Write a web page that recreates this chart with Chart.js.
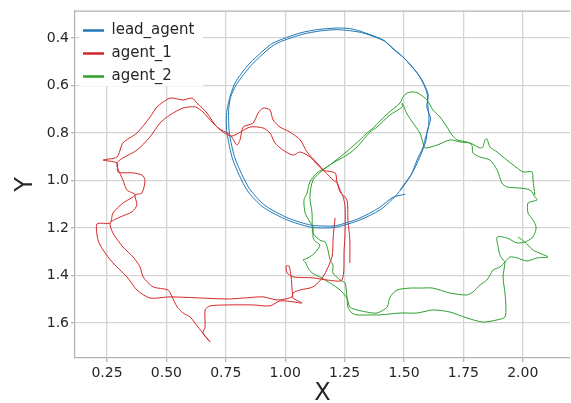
<!DOCTYPE html>
<html>
<head>
<meta charset="utf-8">
<script src="https://cdn.jsdelivr.net/npm/chart.js@4.4.1/dist/chart.umd.min.js"></script>
<style>
	html, body { margin: 0; padding: 0; background: #fff; }
	#wrap { width: 571px; height: 403px; }
</style>
</head>
<body>
<div id="wrap"><canvas id="traj" width="571" height="403"></canvas></div>
<script>
/* global Chart */
var seriesNames = [ 'lead_agent', 'agent_1', 'agent_2' ];
var seriesColors = [ '#1f77b4', '#d62728', '#2ca02c' ];
var xTicks = [ 0.25, 0.5, 0.75, 1.0, 1.25, 1.5, 1.75, 2.0 ];
var yTicks = [ 0.4, 0.6, 0.8, 1.0, 1.2, 1.4, 1.6 ];

// [x, y] samples
var leadAgent = [
	[1.483,1.040],[1.530,0.975],[1.555,0.914],[1.580,0.860],[1.588,0.829],[1.603,0.775],[1.605,0.733],
	[1.600,0.680],[1.597,0.632],[1.578,0.585],[1.555,0.547],[1.496,0.480],[1.450,0.440],[1.412,0.408],
	[1.315,0.371],[1.270,0.360],[1.218,0.358],[1.140,0.364],[1.062,0.379],[0.949,0.421],[0.900,0.460],
	[0.852,0.505],[0.815,0.550],[0.789,0.589],[0.770,0.640],[0.755,0.703],[0.752,0.750],[0.755,0.800],
	[0.780,0.914],[0.839,1.040],[0.907,1.112],[1.008,1.166],[1.104,1.196],[1.160,1.200],[1.218,1.196],
	[1.315,1.166],[1.399,1.124],[1.450,1.080],[1.490,1.035],
	[1.535,0.968],[1.565,0.905],[1.592,0.835],[1.598,0.790],[1.612,0.740],[1.596,0.690],[1.602,0.640],
	[1.585,0.595],[1.562,0.555],[1.505,0.488],[1.455,0.447],[1.418,0.413],[1.320,0.377],[1.222,0.365],
	[1.150,0.370],[1.070,0.385],[0.955,0.428],[0.860,0.512],[0.795,0.595],[0.770,0.650],[0.762,0.705],
	[0.765,0.800],[0.790,0.910],[0.848,1.032],[0.915,1.105],[1.012,1.158],[1.108,1.188],[1.170,1.192],
	[1.215,1.190],[1.310,1.160],[1.395,1.115],[1.455,1.070],[1.505,1.058]
];

var agent1 = [
	[1.210,1.158],[1.202,1.238],[1.197,1.322],[1.159,1.406],[1.117,1.448],[1.063,1.461],[1.033,1.474],
	[1.033,1.495],[1.071,1.516],[1.033,1.511],[0.978,1.507],[0.936,1.528],[0.865,1.524],[0.755,1.524],
	[0.684,1.528],[0.663,1.545],[0.663,1.617],[0.654,1.642],[0.684,1.680],[0.633,1.617],[0.600,1.575],
	[0.570,1.558],[0.545,1.532],[0.524,1.490],[0.507,1.461],[0.444,1.448],[0.402,1.406],[0.389,1.364],
	[0.360,1.322],[0.317,1.280],[0.275,1.221],[0.263,1.179],[0.305,1.154],[0.355,1.132],[0.376,1.103],
	[0.368,1.061],[0.397,1.053],[0.410,0.998],[0.397,0.977],[0.360,0.968],[0.296,0.964],[0.292,0.926],
	[0.233,0.914],[0.292,0.901],[0.317,0.842],[0.376,0.800],[0.431,0.733],[0.461,0.690],[0.515,0.653],
	[0.570,0.661],[0.608,0.653],[0.629,0.674],[0.671,0.716],[0.713,0.775],[0.768,0.808],[0.797,0.850],
	[0.810,0.829],[0.823,0.775],[0.865,0.758],[0.886,0.716],[0.907,0.695],[0.936,0.703],[0.949,0.745],
	[0.978,0.775],[1.020,0.796],[1.063,0.829],[1.092,0.880],[1.134,0.926],[1.168,0.964],[1.202,0.998],
	[1.218,1.010],[1.231,1.040],[1.244,1.069],[1.252,1.111],[1.252,1.221],[1.248,1.292],[1.239,1.419],
	[1.176,1.419],[1.117,1.410],[1.033,1.406],[1.008,1.389],[1.004,1.360],[1.016,1.360],[1.025,1.406],
	[1.029,1.461],[1.029,1.490],[0.966,1.503],[0.907,1.490],[0.823,1.495],[0.755,1.499],[0.515,1.490],
	[0.431,1.495],[0.376,1.461],[0.334,1.406],[0.275,1.347],[0.233,1.292],[0.212,1.250],[0.208,1.183],
	[0.263,1.179],[0.275,1.137],[0.317,1.095],[0.368,1.061],[0.334,1.040],[0.317,0.998],[0.292,0.926],
	[0.376,0.872],[0.431,0.817],[0.473,0.758],[0.515,0.724],[0.570,0.695],[0.621,0.690],[0.654,0.712],
	[0.696,0.758],[0.738,0.796],[0.776,0.813],[0.852,0.775],[0.907,0.779],[0.936,0.800],[0.957,0.842],
	[0.991,0.872],[1.033,0.893],[1.063,0.880],[1.105,0.901],[1.159,0.956],[1.210,0.968],[1.218,1.006],
	[1.231,1.048],[1.260,1.082],[1.264,1.166],[1.272,1.250],[1.272,1.347]
];

var agent2 = [
	[1.980,1.238],[2.009,1.259],[2.043,1.293],[2.106,1.322],[2.060,1.326],[2.018,1.339],[1.976,1.326],
	[1.946,1.322],[1.925,1.343],[1.904,1.364],[1.875,1.377],[1.862,1.398],[1.849,1.419],[1.820,1.440],
	[1.790,1.469],[1.765,1.482],[1.694,1.474],[1.622,1.453],[1.567,1.453],[1.525,1.453],[1.471,1.461],
	[1.441,1.491],[1.429,1.533],[1.386,1.558],[1.344,1.554],[1.302,1.545],[1.272,1.533],[1.260,1.495],
	[1.231,1.461],[1.189,1.432],[1.155,1.411],[1.113,1.389],[1.096,1.368],[1.084,1.343],[1.075,1.335],
	[1.096,1.326],[1.125,1.305],[1.146,1.272],[1.125,1.255],[1.117,1.238],[1.117,1.196],[1.104,1.175],
	[1.084,1.137],[1.079,1.082],[1.092,1.053],[1.104,1.006],[1.134,0.968],[1.176,0.943],[1.231,0.901],
	[1.281,0.859],[1.315,0.829],[1.344,0.800],[1.370,0.779],[1.429,0.720],[1.483,0.674],[1.496,0.648],
	[1.513,0.632],[1.538,0.627],[1.559,0.632],[1.597,0.661],[1.622,0.703],[1.652,0.733],[1.681,0.775],
	[1.702,0.808],[1.723,0.829],[1.765,0.838],[1.786,0.851],[1.790,0.884],[1.820,0.901],[1.862,0.914],
	[1.892,0.956],[1.912,1.011],[1.933,1.027],[1.988,1.032],[2.030,1.040],[2.051,1.069],[2.060,1.082],
	[2.022,1.095],[2.022,1.137],[2.043,1.166],[2.056,1.196],[2.051,1.221],[2.039,1.242],[2.009,1.259],
	[1.976,1.263],[1.933,1.242],[1.892,1.238],[1.896,1.280],[1.904,1.314],[1.917,1.335],[1.925,1.343],
	[1.917,1.406],[1.925,1.474],[1.929,1.533],[1.925,1.575],[1.892,1.587],[1.832,1.596],[1.765,1.579],
	[1.694,1.554],[1.622,1.545],[1.555,1.558],[1.483,1.558],[1.399,1.566],[1.357,1.566],[1.302,1.566],
	[1.281,1.558],[1.264,1.533],[1.260,1.491],[1.252,1.432],[1.231,1.419],[1.201,1.389],[1.201,1.356],
	[1.189,1.335],[1.180,1.293],[1.168,1.259],[1.146,1.251],[1.117,1.221],[1.113,1.137],[1.104,1.069],
	[1.117,0.998],[1.159,0.956],[1.201,0.926],[1.260,0.893],[1.302,0.859],[1.357,0.796],[1.386,0.775],
	[1.441,0.724],[1.492,0.691],[1.492,0.674],[1.513,0.720],[1.538,0.758],[1.567,0.800],[1.580,0.842],
	[1.588,0.863],[1.639,0.851],[1.694,0.829],[1.736,0.838],[1.778,0.842],[1.820,0.863],[1.832,0.859],
	[1.841,0.829],[1.849,0.825],[1.862,0.859],[1.892,0.880],[1.933,0.914],[1.976,0.947],[2.001,0.964],
	[2.039,0.964],[2.043,0.998],[2.051,1.061]
];

(function () {
	'use strict';

	var paths = [ leadAgent, agent1, agent2 ];
	var font = 'DejaVu Sans';
	var textColor = '#262626';

	function toPoints( path ) {
		return path.map( function ( p ) { return { x: p[0], y: p[1] }; } );
	}

	// white legend box drawn over the grid, like matplotlib's
	var legendBox = {
		id: 'legendBox',
		afterDraw: function ( chart ) {
			var ctx = chart.ctx;
			var area = chart.chartArea;
			ctx.save();
			ctx.fillStyle = '#fff';
			ctx.fillRect( area.left + 4, area.top + 1, 124, 74 );
			ctx.restore();
			chart.legend.draw();
			// top spine
			ctx.save();
			ctx.strokeStyle = '#b3b3b3';
			ctx.lineWidth = 1.25;
			ctx.beginPath();
			ctx.moveTo( area.left, area.top );
			ctx.lineTo( area.right, area.top );
			ctx.stroke();
			ctx.restore();
		}
	};

	new Chart( document.getElementById( 'traj' ), {
		type: 'scatter',
		data: {
			datasets: paths.map( function ( path, i ) {
				return {
					label: seriesNames[i],
					data: toPoints( path ),
					showLine: true,
					borderColor: seriesColors[i],
					backgroundColor: seriesColors[i],
					borderWidth: 1,
					pointRadius: 0,
					pointHoverRadius: 0,
					tension: 0.25,
					borderJoinStyle: 'round'
				};
			} )
		},
		options: {
			responsive: false,
			animation: false,
			devicePixelRatio: 1,
			layout: { padding: { top: 11, right: 1, left: 0, bottom: 0 } },
			plugins: {
				tooltip: { enabled: false },
				legend: {
					position: 'chartArea',
					align: 'start',
					// empty title only pushes the entries down
					title: { display: true, text: '', font: { size: 1, lineHeight: 1 }, padding: { top: 14, bottom: 0 } },
					labels: {
						boxWidth: 21,
						boxHeight: 2.5,
						padding: 8,
						color: textColor,
						font: { family: font, size: 15 },
						generateLabels: function ( chart ) {
							return chart.data.datasets.map( function ( ds, i ) {
								return {
									text: ds.label,
									fillStyle: ds.borderColor,
									strokeStyle: ds.borderColor,
									lineWidth: 0,
									hidden: false,
									datasetIndex: i,
									fontColor: textColor
								};
							} );
						}
					}
				}
			},
			scales: {
				x: {
					type: 'linear',
					min: 0.1153,
					max: 2.1987,
					afterFit: function ( s ) { s.height = 45; },
					afterBuildTicks: function ( s ) {
						s.ticks = xTicks.map( function ( v ) { return { value: v }; } );
					},
					grid: { color: '#d5d5d5', lineWidth: 1.3, tickLength: 4, tickColor: '#b3b3b3' },
					border: { color: '#b3b3b3', width: 1.25 },
					ticks: {
						padding: 3,
						color: textColor,
						font: { family: font, size: 14 },
						callback: function ( v ) { return Number( v ).toFixed( 2 ); }
					},
					title: {
						display: true,
						text: 'X',
						color: textColor,
						font: { family: font, size: 24, lineHeight: 0.8 },
						padding: { top: 0, bottom: 0 }
					}
				},
				y: {
					type: 'linear',
					reverse: true,
					min: 0.2863,
					max: 1.7474,
					afterFit: function ( s ) { s.width = 75; },
					afterBuildTicks: function ( s ) {
						s.ticks = yTicks.map( function ( v ) { return { value: v }; } );
					},
					grid: { color: '#d5d5d5', lineWidth: 1.3, tickLength: 4, tickColor: '#b3b3b3' },
					border: { color: '#b3b3b3', width: 1.25 },
					ticks: {
						padding: 2,
						color: textColor,
						font: { family: font, size: 14 },
						callback: function ( v ) { return Number( v ).toFixed( 1 ); }
					},
					title: {
						display: true,
						text: 'Y',
						color: textColor,
						font: { family: font, size: 24, lineHeight: 0.8 },
						padding: { top: 16, bottom: 0 }
					}
				}
			}
		},
		plugins: [ legendBox ]
	} );
}() );
</script>
</body>
</html>
